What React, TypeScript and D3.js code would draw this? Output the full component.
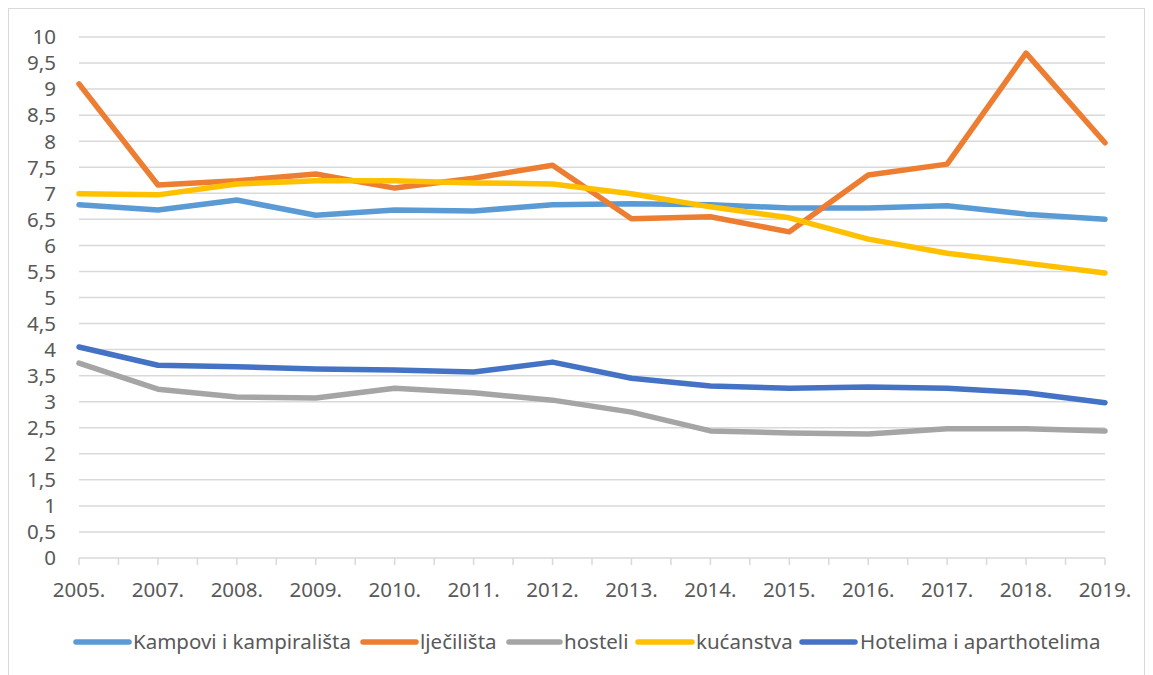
import React from "react";
import * as d3 from "d3";

const years = ["2005.", "2007.", "2008.", "2009.", "2010.", "2011.", "2012.", "2013.", "2014.", "2015.", "2016.", "2017.", "2018.", "2019."];

const kampovi = [6.78, 6.68, 6.87, 6.58, 6.68, 6.66, 6.78, 6.8, 6.78, 6.72, 6.72, 6.76, 6.6, 6.5];
const ljecilista = [9.1, 7.16, 7.24, 7.37, 7.1, 7.29, 7.54, 6.51, 6.55, 6.26, 7.35, 7.56, 9.69, 7.97];
const hosteli = [3.74, 3.24, 3.09, 3.07, 3.26, 3.17, 3.03, 2.8, 2.44, 2.4, 2.38, 2.48, 2.48, 2.44];
const kucanstva = [6.99, 6.97, 7.18, 7.24, 7.24, 7.2, 7.18, 6.99, 6.74, 6.53, 6.12, 5.85, 5.66, 5.47];
const hotelima = [4.05, 3.7, 3.67, 3.63, 3.61, 3.57, 3.76, 3.45, 3.3, 3.26, 3.28, 3.26, 3.17, 2.98];

const seriesNames = ["Kampovi i kampirališta", "lječilišta", "hosteli", "kućanstva", "Hotelima i aparthotelima"];
const yTicks = [0, 0.5, 1, 1.5, 2, 2.5, 3, 3.5, 4, 4.5, 5, 5.5, 6, 6.5, 7, 7.5, 8, 8.5, 9, 9.5, 10];

const colors = ["#5B9BD5", "#ED7D31", "#A5A5A5", "#FFC000", "#4472C4"];
// legend layout: [line start, line end, text start]
const legendPos = [
  [76, 129, 133],
  [363, 416, 420],
  [509, 560, 564],
  [638, 692, 696],
  [802, 855, 860],
];

export default function App() {
  const W = 1153;
  const H = 675;
  const x = d3.scalePoint<string>().domain(years).range([79, 1105]);
  const y = d3.scaleLinear().domain([0, 10]).range([558, 37]);
  const data = [kampovi, ljecilista, hosteli, kucanstva, hotelima];
  const line = d3
    .line<number>()
    .x((_, i) => x(years[i]) as number)
    .y((d) => y(d));
  const step = x.step();
  const tickXs: number[] = [];
  years.forEach((yr, i) => {
    const cx = x(yr) as number;
    tickXs.push(cx);
    if (i < years.length - 1) tickXs.push(cx + step / 2);
  });
  const font = "'Noto Sans', sans-serif";
  const textColor = "#595959";
  // draw order: Excel draws series in order
  return (
    <div style={{ position: "absolute", left: 0, top: 0 }}>
      <svg width={W} height={H} style={{ display: "block" }}>
        <rect x={0} y={0} width={W} height={H} fill="#ffffff" />
        <rect x={8.5} y={8.5} width={1136} height={700} fill="none" stroke="#D9D9D9" strokeWidth={1} />
        {yTicks.map((t) => (
          <line key={"g" + t} x1={79} x2={1105} y1={y(t)} y2={y(t)} stroke="#D9D9D9" strokeWidth={1.5} />
        ))}
        {tickXs.map((tx, i) => (
          <line key={"t" + i} x1={tx} x2={tx} y1={558} y2={565} stroke="#D9D9D9" strokeWidth={1.5} />
        ))}
        {yTicks.map((t) => (
          <text
            key={"yl" + t}
            x={56}
            y={y(t) + 7.3}
            textAnchor="end"
            fontFamily={font}
            fontSize={20.5}
            fill={textColor}
          >
            {String(t).replace(".", ",")}
          </text>
        ))}
        {years.map((yr) => (
          <text
            key={"xl" + yr}
            x={x(yr) as number}
            y={597}
            textAnchor="middle"
            fontFamily={font}
            fontSize={20.5}
            fill={textColor}
          >
            {yr}
          </text>
        ))}
        {data.map((s, i) => (
          <path
            key={"s" + i}
            d={line(s) || ""}
            fill="none"
            stroke={colors[i]}
            strokeWidth={5.5}
            strokeLinejoin="round"
            strokeLinecap="round"
          />
        ))}
        {seriesNames.map((n, i) => (
          <g key={"lg" + i}>
            <line
              x1={legendPos[i][0]}
              x2={legendPos[i][1]}
              y1={642}
              y2={642}
              stroke={colors[i]}
              strokeWidth={5.5}
              strokeLinecap="round"
            />
            <text x={legendPos[i][2]} y={649} fontFamily={font} fontSize={20.5} fill={textColor}>
              {n}
            </text>
          </g>
        ))}
      </svg>
    </div>
  );
}
